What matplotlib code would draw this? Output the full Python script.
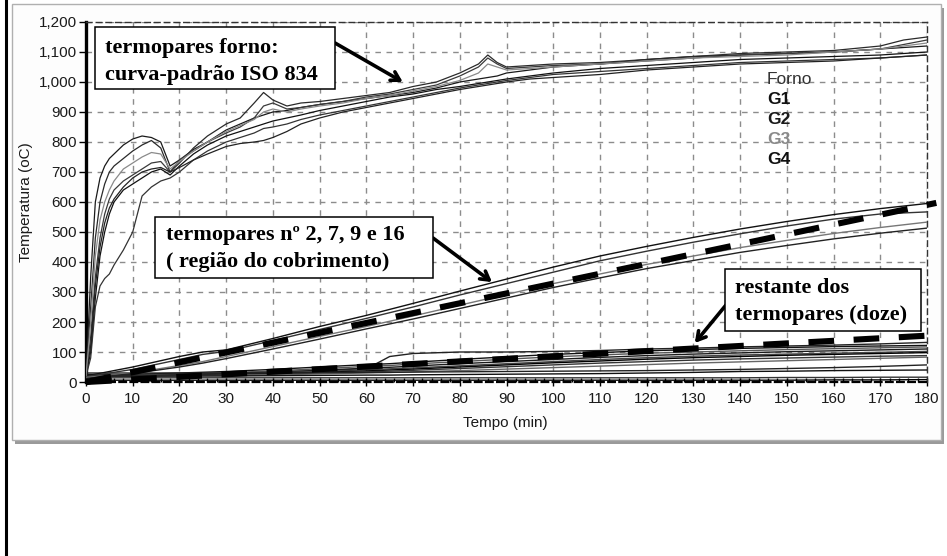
import matplotlib
matplotlib.use('Agg')
import matplotlib.pyplot as plt
from matplotlib.patches import Rectangle
from matplotlib.lines import Line2D
from matplotlib.ticker import FuncFormatter, MultipleLocator

# ---------------- data ----------------
x_ticks = [0, 10, 20, 30, 40, 50, 60, 70, 80, 90, 100, 110, 120, 130, 140, 150, 160, 170, 180]
y_ticks = [0, 100, 200, 300, 400, 500, 600, 700, 800, 900, 1000, 1100, 1200]

# furnace thermocouples (ISO 834 curve)
t_furnace = [0, 1, 2, 3, 4, 5, 6, 8, 10, 12, 14, 16, 18, 20, 23, 26, 30, 33, 36, 38, 40, 43, 46, 50,
             55, 60, 65, 70, 75, 80, 84, 86, 88, 90, 95, 100, 110, 120, 130, 140, 150, 160, 170, 175, 180]
furnace_1 = [20, 350, 600, 680, 720, 745, 760, 790, 810, 820, 815, 800, 720, 740, 775, 800, 840, 860, 880, 890, 900, 905, 915, 925,
             935, 945, 955, 965, 980, 1000, 1010, 1015, 1020, 1030, 1040, 1050, 1060, 1075, 1085, 1090, 1095, 1100, 1110, 1115, 1120]
furnace_2 = [20, 250, 480, 600, 660, 700, 720, 745, 770, 790, 805, 780, 700, 730, 780, 820, 860, 880, 930, 965, 940, 920, 930, 935,
             945, 955, 965, 985, 1000, 1030, 1060, 1090, 1065, 1050, 1055, 1060, 1065, 1075, 1085, 1095, 1100, 1105, 1120, 1140, 1150]
furnace_3 = [20, 150, 350, 480, 560, 610, 640, 670, 690, 710, 730, 735, 700, 740, 770, 800, 830, 850, 880, 920, 930, 910, 915, 925,
             935, 950, 960, 975, 990, 1020, 1050, 1080, 1060, 1045, 1050, 1055, 1060, 1070, 1080, 1090, 1095, 1100, 1110, 1125, 1140]
furnace_4 = [20, 100, 280, 420, 500, 560, 600, 640, 660, 680, 700, 710, 690, 720, 760, 790, 820, 835, 850, 860, 870, 880, 890, 905,
             920, 935, 950, 960, 975, 985, 995, 1000, 1005, 1010, 1020, 1030, 1045, 1055, 1065, 1075, 1080, 1085, 1090, 1095, 1100]
furnace_5 = [20, 80, 250, 320, 345, 360, 390, 440, 500, 620, 650, 670, 680, 700, 740, 770, 800, 815, 830, 845, 850, 860, 875, 890,
             905, 920, 935, 950, 965, 980, 990, 995, 1000, 1005, 1015, 1025, 1035, 1045, 1055, 1065, 1070, 1075, 1080, 1085, 1090]
furnace_6 = [20, 120, 320, 450, 530, 580, 610, 650, 680, 700, 710, 715, 700, 715, 740, 760, 785, 795, 800, 805, 815, 835, 860, 880,
             900, 915, 930, 945, 960, 975, 985, 990, 995, 1000, 1010, 1015, 1025, 1040, 1050, 1060, 1065, 1070, 1080, 1085, 1090]
furnace_7 = [20, 200, 420, 540, 600, 640, 670, 710, 730, 750, 765, 760, 710, 735, 770, 800, 835, 855, 875, 900, 910, 900, 910, 920,
             930, 945, 955, 970, 985, 1005, 1030, 1060, 1050, 1040, 1045, 1050, 1060, 1070, 1080, 1085, 1090, 1100, 1110, 1120, 1130]
furnace_series = [furnace_1, furnace_2, furnace_3, furnace_4, furnace_5, furnace_6, furnace_7]
furnace_colors = ['#1a1a1a', '#2a2a2a', '#3a3a3a', '#111111', '#333333', '#222222', '#8a8a8a']

# thermocouples 2, 7, 9, 16 (cover region)
t_slab = [0, 10, 20, 25, 30, 40, 50, 60, 70, 80, 90, 100, 110, 120, 130, 140, 150, 160, 170, 180]
cover_1 = [20, 50, 85, 100, 107, 145, 185, 222, 262, 303, 343, 383, 420, 452, 482, 510, 535, 558, 578, 595]
cover_2 = [18, 42, 75, 92, 102, 138, 175, 212, 250, 290, 328, 366, 404, 436, 466, 494, 520, 543, 560, 567]
cover_3 = [15, 30, 55, 68, 85, 118, 152, 185, 220, 256, 292, 328, 360, 392, 420, 448, 472, 495, 515, 533]
cover_4 = [12, 28, 50, 63, 78, 110, 143, 177, 210, 245, 280, 315, 347, 378, 405, 432, 455, 477, 496, 513]
cover_series = [cover_1, cover_2, cover_3, cover_4]
cover_colors = ['#111111', '#333333', '#777777', '#222222']

# remaining twelve thermocouples
t_rest = [0, 10, 20, 30, 40, 50, 60, 62, 65, 70, 80, 90, 100, 110, 120, 130, 140, 150, 160, 170, 180]
rest_series = [
    [25, 25, 27, 30, 33, 37, 45, 60, 85, 95, 100, 100, 102, 105, 110, 113, 117, 120, 123, 127, 132],
    [22, 25, 30, 35, 42, 50, 58, 59, 61, 66, 75, 84, 92, 98, 104, 108, 112, 115, 118, 120, 122],
    [20, 22, 26, 31, 37, 44, 52, 53, 55, 60, 68, 76, 84, 90, 96, 100, 104, 108, 111, 114, 117],
    [20, 21, 24, 28, 33, 39, 46, 47, 49, 53, 61, 68, 75, 82, 88, 93, 97, 101, 104, 107, 110],
    [20, 21, 23, 26, 30, 35, 41, 42, 44, 47, 54, 61, 68, 75, 81, 86, 90, 93, 96, 99, 102],
    [20, 20, 22, 25, 28, 32, 37, 38, 40, 43, 50, 57, 64, 70, 76, 81, 85, 89, 92, 95, 98],
    [20, 20, 21, 23, 26, 30, 34, 35, 36, 39, 45, 51, 57, 63, 68, 73, 77, 80, 83, 86, 88],
    [20, 20, 21, 22, 24, 27, 30, 31, 32, 34, 38, 43, 48, 53, 58, 63, 67, 71, 75, 79, 83],
    [30, 30, 30, 30, 30, 31, 32, 32, 32, 33, 34, 35, 36, 37, 38, 40, 42, 45, 48, 52, 57],
    [20, 20, 20, 20, 21, 22, 23, 23, 23, 24, 25, 26, 27, 28, 30, 32, 35, 36, 38, 39, 40],
    [14, 14, 14, 14, 14, 14, 14, 14, 14, 14, 14, 14, 14, 14, 14, 14, 14, 15, 15, 16, 16],
    [6, 6, 6, 6, 6, 6, 6, 6, 6, 6, 6, 6, 6, 6, 6, 6, 6, 6, 7, 7, 8],
]
rest_colors = ['#222222', '#111111', '#555555', '#1a1a1a', '#444444', '#000000',
               '#333333', '#666666', '#222222', '#111111', '#333333', '#000000']

# hand-drawn dashed trend lines
guide_cover_t = [0, 182]
guide_cover_T = [0, 597]
guide_rest_t = [0, 183]
guide_rest_T = [0, 157]

legend_labels = ['Forno', 'G1', 'G2', 'G3', 'G4']
legend_colors = ['#333333', '#111111', '#1a1a1a', '#8a8a8a', '#111111']
legend_weights = ['normal', 'bold', 'bold', 'bold', 'bold']

# ---------------- figure ----------------
W, H = 947, 556
fig = plt.figure(figsize=(W / 100, H / 100), dpi=100)


def fx(px):
    return px / W


def fy(py):
    return 1 - py / H


# panel with shadow
fig.patches.append(Rectangle((fx(15), fy(444)), fx(944) - fx(15), fy(8) - fy(444),
                             transform=fig.transFigure, facecolor='#9a9a9a', edgecolor='none', zorder=-3))
fig.patches.append(Rectangle((fx(12), fy(440)), fx(941) - fx(12), fy(4) - fy(440),
                             transform=fig.transFigure, facecolor='#fdfdfd', edgecolor='#b0b0b0',
                             linewidth=1, zorder=-2))
# page border on left
fig.lines.append(Line2D([fx(6), fx(6)], [0, 1], transform=fig.transFigure, color='black', linewidth=2.2))

ax = fig.add_axes([fx(86), fy(382), fx(927) - fx(86), fy(22) - fy(382)])
ax.set_facecolor('white')
ax.set_xlim(0, 180)
ax.set_ylim(0, 1200)
ax.set_xticks(x_ticks)
ax.set_yticks(y_ticks)
ax.xaxis.set_minor_locator(MultipleLocator(2))
ax.yaxis.set_major_formatter(FuncFormatter(lambda v, p: f"{int(v):,}"))
ax.grid(True, which='major', color='#8c8c8c', linestyle=(0, (4, 4)), linewidth=1)
ax.set_axisbelow(True)

for lbl in ax.get_xticklabels() + ax.get_yticklabels():
    lbl.set_family('Liberation Sans')
    lbl.set_fontsize(11)
    lbl.set_color('#1a1a1a')
ax.tick_params(axis='x', which='major', direction='inout', length=6, width=1, pad=4)
ax.tick_params(axis='x', which='minor', direction='in', length=3, width=1)
ax.tick_params(axis='y', which='major', direction='out', length=5, width=1, pad=1.5)

ax.spines['left'].set_linewidth(2.4)
ax.spines['left'].set_color('black')
ax.spines['bottom'].set_linestyle((0, (3, 2)))
ax.spines['bottom'].set_linewidth(1.6)
ax.spines['bottom'].set_color('black')
for s in ['top', 'right']:
    ax.spines[s].set_linestyle((0, (4, 3)))
    ax.spines[s].set_color('#333333')
    ax.spines[s].set_linewidth(1)

# data lines
for ys, c in zip(rest_series, rest_colors):
    ax.plot(t_rest, ys, color=c, linewidth=1, zorder=3)
for ys, c in zip(cover_series, cover_colors):
    ax.plot(t_slab, ys, color=c, linewidth=1, zorder=3)
for ys, c in zip(furnace_series, furnace_colors):
    ax.plot(t_furnace, ys, color=c, linewidth=0.9, zorder=3)

# dashed guide lines
for gt, gT in [(guide_cover_t, guide_cover_T), (guide_rest_t, guide_rest_T)]:
    ax.plot(gt, gT, color='black', linewidth=4.4, linestyle=(0, (4.2, 3.2)),
            solid_capstyle='butt', dash_capstyle='butt', clip_on=False, zorder=5)

# legend texts
leg_y = [80, 100, 120, 140, 160]
for lab, col, wgt, py in zip(legend_labels, legend_colors, legend_weights, leg_y):
    fig.text(fx(767), fy(py), lab, color=col, fontweight=wgt, fontsize=12.5,
             family='Liberation Sans', ha='left', va='center', zorder=6)

# axis labels
fig.text(fx(505), fy(423), 'Tempo (min)', ha='center', va='center', fontsize=11,
         family='Liberation Sans', color='#1a1a1a')
fig.text(fx(26), fy(202), 'Temperatura (oC)', ha='center', va='center', rotation=90,
         fontsize=11, family='Liberation Sans', color='#1a1a1a')

# annotation boxes
serif = dict(family='Liberation Serif', fontweight='bold', fontsize=16, color='black')
boxes = [
    ((95, 27, 335, 89), (105, [53, 80]), ['termopares forno:', 'curva-padrão ISO 834']),
    ((155, 217, 433, 278), (166, [240, 267]), ['termopares nº 2, 7, 9 e 16', '( região do cobrimento)']),
    ((725, 269, 921, 331), (735, [293, 320]), ['restante dos', 'termopares (doze)']),
]
for (x0, y0, x1, y1), (tx, tys), lines in boxes:
    fig.patches.append(Rectangle((fx(x0), fy(y1)), fx(x1) - fx(x0), fy(y0) - fy(y1),
                                 transform=fig.transFigure, facecolor='white', edgecolor='black',
                                 linewidth=1.1, zorder=7))
    for ln, ty in zip(lines, tys):
        fig.text(fx(tx), fy(ty), ln, ha='left', va='baseline', zorder=8, **serif)

# arrows: from box edges (figure pixels) to curves (data)
arrows = [((335, 43), (67.8, 1000)), ((433, 238), (86.9, 333)), ((726, 305), (130.3, 130))]
for (sx, sy), (tx, tT) in arrows:
    ax.annotate('', xy=(tx, tT), xycoords='data', xytext=(sx, H - sy), textcoords='figure pixels',
                arrowprops=dict(arrowstyle='->,head_length=0.6,head_width=0.35', color='black',
                                linewidth=2.6, shrinkA=0, shrinkB=0), zorder=9, annotation_clip=False)

fig.savefig('out.png', dpi=100)
